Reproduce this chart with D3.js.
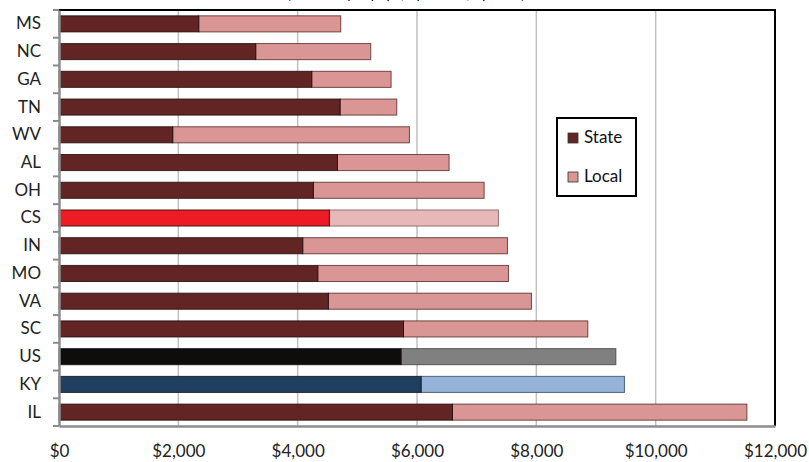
<!DOCTYPE html>
<html><head><meta charset="utf-8">
<script src="https://cdn.jsdelivr.net/npm/d3@7/dist/d3.min.js"></script>
<style>body{margin:0;background:#fff}svg{display:block;font-family:Lato,"Open Sans",sans-serif}</style>
</head><body><svg id="c" width="809" height="462"></svg>
<script>
const categories = ["MS","NC","GA","TN","WV","AL","OH","CS","IN","MO","VA","SC","US","KY","IL"];
const stateValues = [2342,3297,4236,4711,1906,4666,4263,4532,4085,4337,4515,5773,5733,6069,6594];
const localValues = [2380,1928,1330,950,3967,1872,2862,2833,3431,3196,3403,3090,3600,3408,4935];
const xTicks = [0,2000,4000,6000,8000,10000,12000];
const seriesNames = ["State","Local"];
const titleText = "(Revenue per pupil, by source, by state)";

const palette = {
  default:{state:"#632523", local:"#D99694", stroke:"#4a1c1a"},
  CS:{state:"#ED1C24", local:"#E6B9B8", stroke:"#7a5050"},
  US:{state:"#0D0D0D", local:"#808080", stroke:"#3a3a3a"},
  KY:{state:"#1F3F60", local:"#95B3D7", stroke:"#2a4060"}
};

const svg = d3.select("#c");
const m = {left:59, right:34, top:10, bottom:36};
const W = 809, H = 462;
const x = d3.scaleLinear().domain([0,12000]).range([m.left, W-m.right]);
const y = d3.scaleBand().domain(categories).range([m.top, H-m.bottom]).paddingInner(0.42).paddingOuter(0.21);

// title (clipped at the top edge, as in the reference)
svg.append("text").attr("x",406).attr("y",-1).attr("text-anchor","middle")
  .attr("font-size",14).attr("fill","#000").text(titleText);

// gridlines
svg.append("g").selectAll("line").data(xTicks.filter(d=>d>0 && d<12000)).join("line")
  .attr("x1",d=>x(d)).attr("x2",d=>x(d)).attr("y1",m.top).attr("y2",H-m.bottom)
  .attr("stroke","#c0c0c0").attr("stroke-width",1.5);

// bars
const rows = categories.map((c,i)=>({c, s:stateValues[i], l:localValues[i], p:palette[c]||palette.default}));
const g = svg.append("g");
rows.forEach(r=>{
  g.append("rect").attr("x",x(r.s)).attr("y",y(r.c)).attr("width",x(r.s+r.l)-x(r.s)).attr("height",y.bandwidth())
    .attr("fill",r.p.local).attr("stroke",r.p.stroke).attr("stroke-opacity",0.75).attr("stroke-width",1);
  g.append("rect").attr("x",x(0)).attr("y",y(r.c)).attr("width",x(r.s)-x(0)).attr("height",y.bandwidth())
    .attr("fill",r.p.state).attr("stroke","#1a0a0a").attr("stroke-opacity",0.8).attr("stroke-width",1);
});

// plot border top/right
svg.append("path").attr("d",`M${x(0)},${m.top}H${x(12000)}V${H-m.bottom}`)
  .attr("fill","none").attr("stroke","#000").attr("stroke-width",2);

// x axis
const xAxis = d3.axisBottom(x).tickValues(xTicks).tickSize(0).tickPadding(19)
  .tickFormat(d=>"$"+d3.format(",")(d));
const xg = svg.append("g").attr("transform",`translate(0,${H-m.bottom})`).call(xAxis);
xg.select(".domain").attr("stroke","#8c8c8c").attr("stroke-width",2.5);
xg.selectAll("text").attr("font-size",17).attr("fill","#222").attr("font-family","Lato");

// y axis
const yAxis = d3.axisLeft(y).tickSize(0).tickPadding(18);
const yg = svg.append("g").attr("transform",`translate(${x(0)},0)`).call(yAxis);
yg.select(".domain").attr("stroke","#8c8c8c").attr("stroke-width",2.5);
yg.selectAll("text").attr("font-size",17).attr("fill","#222").attr("font-family","Lato");
// tick marks between categories
const tickYs = d3.range(categories.length+1).map(i=>m.top + i*((H-m.bottom-m.top)/categories.length));
yg.append("g").selectAll("line").data(tickYs).join("line")
  .attr("x1",-6).attr("x2",0).attr("y1",d=>d).attr("y2",d=>d)
  .attr("stroke","#8c8c8c").attr("stroke-width",2);

// legend
const lg = svg.append("g").attr("transform","translate(557,118)");
lg.append("rect").attr("width",79).attr("height",78).attr("fill","#fff").attr("stroke","#000").attr("stroke-width",2);
seriesNames.forEach((n,i)=>{
  const yy = 15 + i*39;
  lg.append("rect").attr("x",11).attr("y",yy).attr("width",10).attr("height",10)
    .attr("fill", i===0?palette.default.state:palette.default.local).attr("stroke","#333").attr("stroke-width",0.8);
  lg.append("text").attr("x",27).attr("y",yy+10).attr("font-size",17).attr("fill","#111").text(n);
});
</script></body></html>
